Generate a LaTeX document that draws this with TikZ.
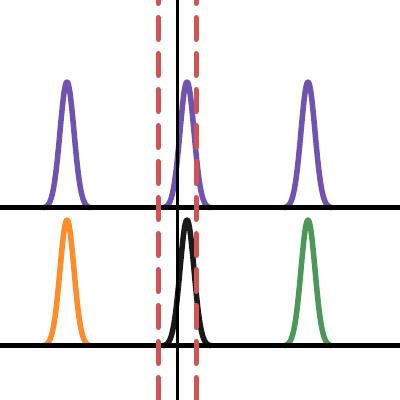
\documentclass[tikz,border=0pt]{standalone}
\usetikzlibrary{calc}
\definecolor{bumppurple}{RGB}{112,82,176}
\definecolor{bumporange}{RGB}{255,140,42}
\definecolor{bumpgreen}{RGB}{76,152,90}
\definecolor{cutred}{RGB}{208,84,84}
\tikzset{ baseline/.style = { draw = black
                             , line width = 5pt
                             },
          bump/.style = { line width   = 5.5pt
                        , line join    = round
                        },
          cut/.style = { draw = cutred
                       , line width  = 5pt
                       , line cap    = round
                       , dash pattern = on 22pt off 14pt
                       , dash phase  = 18.5pt
                       }
        }

\begin{document}
\begin{tikzpicture}[x=1pt, y=1pt]
    \useasboundingbox (0,0) rectangle (400,400);
    % rows
    \coordinate (topL) at (0,192);
    \coordinate (topR) at (400,192);
    \coordinate (botL) at (0,54);
    \coordinate (botR) at (400,54);
    \coordinate (midT) at (177.5,400);
    \coordinate (midB) at (177.5,0);
    \coordinate (lcutT) at (158,400);
    \coordinate (lcutB) at (158,0);
    \coordinate (rcutT) at (196,400);
    \coordinate (rcutB) at (196,0);
    % top row
    \foreach \c in {67, 187, 308} {
        \draw[bump, bumppurple] plot[domain=\c-24:\c+24, samples=90]
            (\x, {192+126*exp(-((\x-\c)^2)/98)});
    }
    % bottom row
    \draw[bump, bumporange] plot[domain=43:91, samples=90]
        (\x, {54+126*exp(-((\x-67)^2)/98)});
    \draw[bump, black!90] plot[domain=163:211, samples=90]
        (\x, {54+126*exp(-((\x-187)^2)/98)});
    \draw[bump, bumpgreen] plot[domain=284:332, samples=90]
        (\x, {54+126*exp(-((\x-308)^2)/98)});
    \draw[baseline] (topL) -- (topR);
    \draw[baseline] (botL) -- (botR);
    \draw[black, line width=3pt] (midT) -- (midB);
    \draw[cut] (lcutT) -- (lcutB);
    \draw[cut] (rcutT) -- (rcutB);
\end{tikzpicture}
\end{document}
